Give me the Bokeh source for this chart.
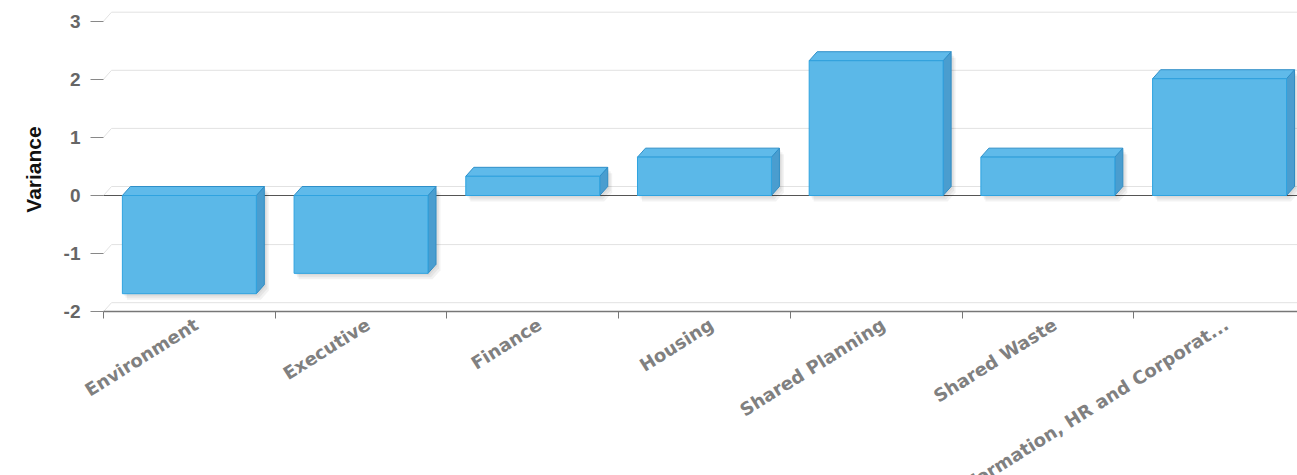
import math

from bokeh.core.properties import value
from bokeh.embed import file_html
from bokeh.models import FixedTicker, Range1d
from bokeh.plotting import figure
from bokeh.resources import INLINE

# Variance by department
departments = [
    "Environment",
    "Executive",
    "Finance",
    "Housing",
    "Shared Planning",
    "Shared Waste",
    "Information, HR and Corporat...",
]
variance = [-1.69, -1.34, 0.33, 0.66, 2.32, 0.66, 2.01]
y_ticks = [-2, -1, 0, 1, 2, 3]

# Geometry: the frame covers the whole canvas, axes are pinned inside it so
# the slanted department names can run off the bottom edge.
W, H = 1297, 475
LEFT = 103                          # pixel column of the category origin
CAT_PX = 171.7                      # pixels per category slot
UNIT_PX = 58.1                      # pixels per variance unit
ZERO_PX = 195                       # distance of the zero line from the top
x_lo = -LEFT / CAT_PX
x_end = (W - LEFT) / CAT_PX         # last slot runs past the right edge
y_hi = ZERO_PX / UNIT_PX
y_lo = y_hi - H / UNIT_PX
y_floor = min(y_ticks)

# 3D depth offset (8 px right, 9 px up) expressed in data units
dx = 8 / CAT_PX
dy = 9 / UNIT_PX
half = 0.39                         # half bar width in category units

p = figure(
    width=W, height=H,
    x_range=Range1d(x_lo, x_end), y_range=Range1d(y_lo, y_hi),
    output_backend="svg", toolbar_location=None,
    min_border_left=0, min_border_right=0,
    min_border_top=0, min_border_bottom=0,
)
p.outline_line_color = None
p.background_fill_color = "white"
p.border_fill_color = "white"
p.xgrid.visible = False
p.ygrid.visible = False

# back-wall grid lines with their short diagonal from the front edge
p.multi_line(
    xs=[[0, dx, x_end] for _ in y_ticks],
    ys=[[v, v + dy, v + dy] for v in y_ticks],
    line_color="#e2e2e2", line_width=1,
)

# zero base line
p.line([0, x_end], [0, 0], line_color="#555555", line_width=1.2)

fronts_x, fronts_y, tops_x, tops_y, sides_x, sides_y = [], [], [], [], [], []
shadow_x, shadow_y = [], []
for i, v in enumerate(variance):
    c = i + 0.5
    x0, x1 = c - half, c + half
    top, bot = max(v, 0), min(v, 0)
    fronts_x.append([x0, x1, x1, x0])
    fronts_y.append([bot, bot, top, top])
    tops_x.append([x0, x1, x1 + dx, x0 + dx])
    tops_y.append([top, top, top + dy, top + dy])
    sides_x.append([x1, x1 + dx, x1 + dx, x1])
    sides_y.append([bot, bot + dy, top + dy, top])
    sil_x = [x0, x1, x1 + dx, x1 + dx, x0 + dx, x0]
    sil_y = [bot, bot, bot + dy, top + dy, top + dy, top]
    for k in (1, 2, 3):
        shadow_x.append([x + k * 1.5 / CAT_PX for x in sil_x])
        shadow_y.append([y - k * 2.0 / UNIT_PX for y in sil_y])

# soft drop shadow
p.patches(shadow_x, shadow_y, fill_color="black", fill_alpha=0.05, line_color=None)

# bar faces
p.patches(sides_x, sides_y, fill_color="#4a9dcf", line_color="#2f8cc4", line_width=1)
p.patches(tops_x, tops_y, fill_color="#5fbaea", line_color="#2f8fc8", line_width=1)
p.patches(fronts_x, fronts_y, fill_color="#5bb8e8", line_color="#2fa3e0", line_width=1)

# y axis pinned to the category origin
p.yaxis.fixed_location = 0
p.yaxis.bounds = (y_floor, max(y_ticks))
p.yaxis.ticker = FixedTicker(ticks=y_ticks)
p.yaxis.axis_line_color = None
p.yaxis.major_tick_out = 13
p.yaxis.major_tick_in = 0
p.yaxis.major_tick_line_color = "#888888"
p.yaxis.minor_tick_line_color = None
p.yaxis.major_label_standoff = 10
p.yaxis.major_label_text_font = "Liberation Sans"
p.yaxis.major_label_text_font_size = "19px"
p.yaxis.major_label_text_font_style = "bold"
p.yaxis.major_label_text_color = "#666666"
p.yaxis.major_label_overrides = {t: str(t) for t in y_ticks}

# axis title beside the -2..3 span
p.text(
    x=[x_lo + 33 / CAT_PX], y=[y_hi - 169 / UNIT_PX], text=["Variance"],
    angle=math.pi / 2, text_align="center", text_baseline="middle",
    text_font=value("Liberation Sans"), text_font_size="21px",
    text_font_style="bold", text_color="#111111",
)

# x axis pinned to the chart floor; names sit just right of slot centres,
# tick marks on slot boundaries (minor ticks)
name_pos = [i + 0.5 + 7 / CAT_PX for i in range(len(departments))]
bounds = list(range(len(departments) + 1))
p.xaxis.fixed_location = y_floor
p.xaxis.bounds = (0, x_end)
p.xaxis.ticker = FixedTicker(ticks=name_pos, minor_ticks=bounds)
p.xaxis.major_label_overrides = {c: name for c, name in zip(name_pos, departments)}
p.xaxis.major_label_orientation = 0.56
p.xaxis.major_label_standoff = 4
p.xaxis.major_label_text_font = "DejaVu Sans"
p.xaxis.major_label_text_font_style = "bold"
p.xaxis.major_label_text_font_size = "18px"
p.xaxis.major_label_text_color = "#808080"
p.xaxis.axis_line_color = "#777777"
p.xaxis.axis_line_width = 1.5
p.xaxis.major_tick_line_color = None
p.xaxis.major_tick_out = 4
p.xaxis.major_tick_in = 0
p.xaxis.minor_tick_out = 7
p.xaxis.minor_tick_in = 0
p.xaxis.minor_tick_line_color = "#777777"

open("out.html", "w").write(file_html(p, INLINE))
